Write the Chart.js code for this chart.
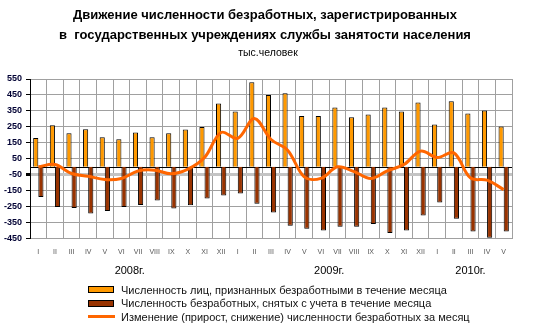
<!DOCTYPE html>
<html>
<head>
<meta charset="utf-8">
<script src="https://cdn.jsdelivr.net/npm/chart.js@4/dist/chart.umd.min.js"></script>
<style>
  html, body { margin: 0; padding: 0; background: #fff; }
  #wrap { position: relative; width: 536px; height: 336px; font-family: "Liberation Sans", Arial, sans-serif; }
  #title { position: absolute; left: 0; top: 5px; width: 530px; text-align: center; font-size: 13px; font-weight: bold; line-height: 20px; color: #000; white-space: pre; }
  #unit { position: absolute; left: 0; top: 45px; width: 536px; text-align: center; font-size: 10.5px; line-height: 14px; color: #000; }
  #legend { position: absolute; left: 88px; top: 283px; font-size: 11px; color: #111; }
  .row { height: 13.5px; display: flex; align-items: center; white-space: nowrap; }
  .sw { display: inline-block; width: 26px; height: 7px; box-sizing: border-box; border: 1px solid #000; margin-right: 7px; }
  .ln { display: inline-block; width: 27px; height: 3px; margin-right: 6px; }
</style>
</head>
<body>
<div id="wrap">
  <canvas id="chart" width="536" height="336"></canvas>
  <div id="title">Движение численности безработных, зарегистрированных
в  государственных учреждениях службы занятости населения</div>
  <div id="unit">тыс.человек</div>
  <div id="legend"></div>
</div>
<script>
// months Jan 2008 - May 2010
const months = ['I', 'II', 'III', 'IV', 'V', 'VI', 'VII', 'VIII', 'IX', 'X', 'XI', 'XII',
                'I', 'II', 'III', 'IV', 'V', 'VI', 'VII', 'VIII', 'IX', 'X', 'XI', 'XII',
                'I', 'II', 'III', 'IV', 'V'];
const years = ['2008г.', '2009г.', '2010г.'];
const yearFirst = [0, 12, 24];
const yearLast = [11, 23, 28];

// thousand persons
const registered = [180, 260, 210, 235, 185, 172, 215, 185, 210, 234, 250, 397,
                    347, 529, 449, 460, 318, 318, 372, 311, 328, 372, 347, 403,
                    265, 410, 334, 353, 253];
const removed = [-189, -252, -258, -293, -277, -252, -239, -212, -262, -241, -199, -180,
                 -168, -231, -287, -369, -388, -400, -375, -375, -358, -415, -400, -306,
                 -224, -325, -406, -444, -406];
const change = [0, 14, -42, -59, -80, -73, -26, -21, -44, -15, 58, 215,
                178, 303, 171, 104, -63, -73, 0, -30, -73, -25, 14, 98,
                58, 87, -70, -84, -143];

const yTicks = [-450, -350, -250, -150, -50, 50, 150, 250, 350, 450, 550];

const labelRegistered = 'Численность лиц, признанных безработными в течение месяца';
const labelRemoved = 'Численность безработных, снятых с учета в течение месяца';
const labelChange = 'Изменение (прирост, снижение) численности безработных за месяц';

const FONT = '"Liberation Sans", Arial, sans-serif';
Chart.defaults.font.family = FONT;

// black line at zero + year captions under the month labels
const extras = {
  id: 'extras',
  beforeDatasetsDraw(chart) {
    const { ctx, chartArea, scales } = chart;
    const y = Math.round(scales.y.getPixelForValue(0)) + 0.5;
    ctx.save();
    ctx.strokeStyle = '#000';
    ctx.lineWidth = 1;
    ctx.beginPath();
    ctx.moveTo(chartArea.left, y);
    ctx.lineTo(chartArea.right, y);
    ctx.stroke();
    ctx.restore();
  },
  afterDraw(chart) {
    const { ctx, scales } = chart;
    ctx.save();
    ctx.font = '11px ' + FONT;
    ctx.fillStyle = '#000';
    ctx.textAlign = 'center';
    ctx.textBaseline = 'middle';
    years.forEach((yr, i) => {
      const x = (scales.x.getPixelForValue(yearFirst[i]) + scales.x.getPixelForValue(yearLast[i])) / 2;
      ctx.fillText(yr, x, 271);
    });
    ctx.restore();
  }
};

const chart = new Chart(document.getElementById('chart'), {
  type: 'bar',
  data: {
    labels: months,
    datasets: [
      {
        type: 'line',
        label: labelChange,
        data: change,
        borderColor: '#FF6600',
        backgroundColor: '#FF6600',
        borderWidth: 3,
        pointRadius: 0,
        tension: 0.35,
        order: 0
      },
      {
        label: labelRegistered,
        data: registered,
        backgroundColor: '#FF9900',
        borderColor: '#000',
        borderWidth: 1,
        categoryPercentage: 0.62,
        barPercentage: 1.0,
        order: 1
      },
      {
        label: labelRemoved,
        data: removed,
        backgroundColor: '#993300',
        borderColor: '#000',
        borderWidth: 1,
        categoryPercentage: 0.62,
        barPercentage: 1.0,
        order: 1
      }
    ]
  },
  options: {
    responsive: false,
    animation: false,
    layout: { padding: { top: 79, left: 0, right: 24, bottom: 71 } },
    plugins: {
      legend: { display: false },
      tooltip: { enabled: false }
    },
    scales: {
      x: {
        grid: { color: '#a0a0a0', drawTicks: false, offset: true },
        border: { color: '#a0a0a0' },
        ticks: { color: '#555', font: { size: 7 }, padding: 9, maxRotation: 0, autoSkip: false }
      },
      y: {
        min: -450,
        max: 550,
        afterBuildTicks: axis => { axis.ticks = yTicks.map(v => ({ value: v })); },
        grid: {
          color: c => (c.tick && c.tick.value === -50 ? '#c4c4c4' : '#a0a0a0'),
          lineWidth: c => (c.tick && c.tick.value === -50 ? 3 : 1),
          tickColor: '#000',
          tickLength: 4
        },
        border: { color: '#000' },
        ticks: { color: '#000033', font: { size: 9, weight: 'bold' }, padding: 4 }
      }
    }
  },
  plugins: [extras]
});

// legend in the order of the reference
const legend = document.getElementById('legend');
[1, 2, 0].forEach(i => {
  const ds = chart.data.datasets[i];
  const row = document.createElement('div');
  row.className = 'row';
  const sw = document.createElement('span');
  if (ds.type === 'line') {
    sw.className = 'ln';
    sw.style.background = ds.borderColor;
  } else {
    sw.className = 'sw';
    sw.style.background = ds.backgroundColor;
  }
  row.appendChild(sw);
  row.appendChild(document.createTextNode(ds.label));
  legend.appendChild(row);
});
</script>
</body>
</html>
